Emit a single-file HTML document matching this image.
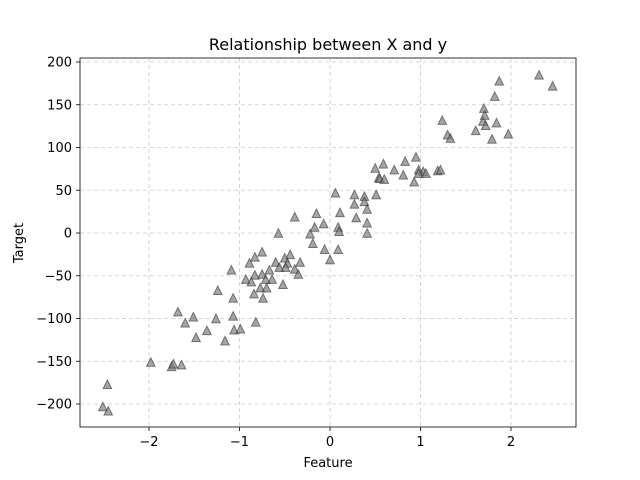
<!DOCTYPE html>
<html><head><meta charset="utf-8"><style>
body{margin:0;background:#fff;}
svg{display:block;font-family:"DejaVu Sans","Liberation Sans",sans-serif;}
</style></head><body>
<svg id="chart" width="640" height="480">
<rect width="640" height="480" fill="#fff"/>
<g id="grid"></g>
<g id="marks"></g>
<rect x="80" y="58" width="496" height="369" fill="none" stroke="#000" stroke-width="0.8"/>
<g id="ticks"></g>
<text x="328" y="50" text-anchor="middle" font-size="16">Relationship between X and y</text>
<text x="328" y="467" text-anchor="middle" font-size="13">Feature</text>
<text x="23" y="243" text-anchor="middle" font-size="13" transform="rotate(-90 23 243)">Target</text>
</svg>
<script>
const xVals=[-2.46,-2.51,-2.45,-1.98,-1.75,-1.73,-1.64,-1.68,-1.60,-1.51,-1.48,-1.36,-1.26,-1.24,-1.16,-1.09,-1.07,-1.07,-1.06,-0.99,-0.82,-0.75,-0.83,-0.89,-0.44,-0.50,-0.60,-0.33,-0.47,-0.56,-0.49,-0.39,-0.35,-0.67,-0.75,-0.83,-0.93,-0.87,-0.71,-0.64,-0.52,-0.77,-0.70,-0.84,-0.74,-0.57,0.06,0.27,0.38,0.51,0.27,0.38,0.41,0.29,0.41,0.41,0.11,0.09,0.10,-0.15,-0.39,-0.07,-0.17,-0.22,-0.19,-0.06,0.09,0.00,0.50,0.54,0.59,0.83,0.95,0.71,0.81,0.98,1.03,1.06,0.98,1.19,1.22,0.93,0.55,0.60,1.24,1.30,1.33,1.61,1.70,1.69,1.71,1.72,1.84,1.97,1.79,1.82,1.87,2.31,2.46];
const yVals=[-177,-203,-208,-151,-156,-153,-154,-92,-105,-98,-122,-114,-100,-67,-126,-43,-76,-97,-113,-112,-104,-22,-28,-35,-25,-29,-34,-34,-35,-40,-40,-42,-48,-43,-48,-49,-54,-57,-54,-54,-60,-64,-64,-71,-76,0,47,45,43,45,34,37,28,18,12,0,24,7,2,23,19,11,7,-1,-12,-19,-19,-31,76,65,81,84,89,74,68,74,72,70,70,73,74,60,64,63,132,115,111,120,146,131,138,126,129,116,110,160,178,185,172];
const xTicks=[-2,-1,0,1,2];
const yTicks=[-200,-150,-100,-50,0,50,100,150,200];
const NS='http://www.w3.org/2000/svg';
function sx(v){return 330+v*90.5;}
function sy(v){return 233-v*0.855;}
const grid=document.getElementById('grid'),ticks=document.getElementById('ticks'),marks=document.getElementById('marks');
function mk(tag,attrs,parent){const e=document.createElementNS(NS,tag);for(const k in attrs)e.setAttribute(k,attrs[k]);parent.appendChild(e);return e;}
xTicks.forEach(t=>{
 const x=sx(t);
 const g=mk('line',{x1:x,x2:x,y1:58,y2:427,stroke:'#ccc','stroke-dasharray':'4,3','stroke-width':0.8},grid);
 
 
 const tk=mk('line',{x1:x,x2:x,y1:427,y2:431,stroke:'#000','stroke-width':0.8},ticks);
 
 
 const lb=mk('text',{x:x,y:446,'text-anchor':'middle','font-size':13},ticks);
 lb.textContent=(t<0?'\u2212'+(-t):t);
 
 
});
yTicks.forEach(t=>{
 const y=sy(t);
 const g=mk('line',{x1:80,x2:576,y1:y,y2:y,stroke:'#ccc','stroke-dasharray':'4,3','stroke-width':0.8},grid);
 
 
 const tk=mk('line',{x1:76,x2:80,y1:y,y2:y,stroke:'#000','stroke-width':0.8},ticks);
 
 
 const lb=mk('text',{x:72,y:y+4.5,'text-anchor':'end','font-size':13},ticks);
 lb.textContent=(t<0?'\u2212'+(-t):t);
 
 
});
xVals.forEach((xv,i)=>{
 const x=sx(xv),y=sy(yVals[i]),h=4.2;
 const p=mk('polygon',{points:`${x},${y-h} ${x-h},${y+h} ${x+h},${y+h}`,fill:'#808080',stroke:'#333',opacity:0.7,'stroke-width':1},marks);
 
 
});
</script>
</body></html>
